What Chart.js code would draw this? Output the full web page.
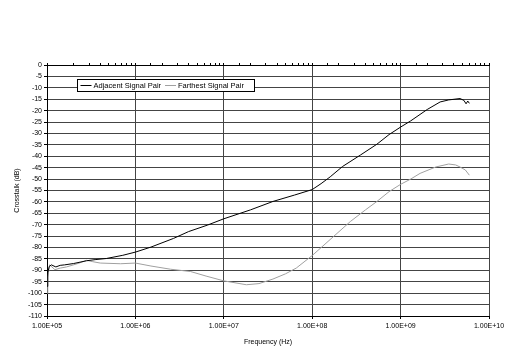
<!DOCTYPE html>
<html>
<head>
<meta charset="utf-8">
<script src="https://cdn.jsdelivr.net/npm/chart.js@4"></script>
<style>
  html, body { margin: 0; padding: 0; background: #fff; }
  #wrap { width: 519px; height: 355px; }
</style>
</head>
<body>
<div id="wrap"><canvas id="xtalkChart" width="519" height="355"></canvas></div>
<script>
// ----------------------
// DATA
// ----------------------
const seriesNames = ["Adjacent Signal Pair", "Farthest Signal Pair"];

const adjFreq = [1.0e5, 1.02e5, 1.06e5, 1.12e5, 1.26e5, 1.41e5, 1.58e5, 2.0e5, 2.8e5, 3.5e5,
  4.7e5, 7.2e5, 1.0e6, 1.5e6, 2.7e6, 4.0e6, 6.5e6, 1.0e7, 2.0e7, 3.6e7,
  6.3e7, 1.0e8, 1.26e8, 1.6e8, 2.2e8, 3.5e8, 5.4e8, 7.4e8, 1.0e9, 1.3e9, 2.0e9,
  2.8e9, 3.5e9, 4.7e9, 5.2e9, 5.5e9, 5.75e9, 6.0e9];
const adjDb = [-97, -91, -88.3, -87.6, -88.5, -87.8, -87.6, -87.0, -85.8, -85.3,
  -84.8, -83.4, -82.0, -79.8, -76.0, -73.0, -70.2, -67.4, -63.5, -59.8,
  -57.0, -54.6, -52.0, -49.0, -44.5, -39.5, -34.7, -30.5, -27.2, -24.5, -19.5,
  -16.2, -15.3, -14.7, -15.5, -17.0, -15.8, -16.8];

const farFreq = [1.0e5, 1.02e5, 1.07e5, 1.23e5, 1.41e5, 1.66e5, 2.24e5, 2.8e5, 3.3e5, 4.0e5,
  6.8e5, 1.0e6, 1.5e6, 2.5e6, 4.2e6, 6.3e6, 1.0e7, 1.8e7, 2.5e7, 3.6e7,
  5.0e7, 6.6e7, 1.0e8, 1.74e8, 2.7e8, 4.0e8, 5.4e8, 7.4e8, 1.0e9, 1.3e9,
  1.66e9, 2.5e9, 3.5e9, 4.2e9, 4.7e9, 5.4e9, 6.0e9];
const farDb = [-100, -93, -87.6, -89.7, -89.0, -88.5, -87.0, -85.6, -86.2, -86.8,
  -87.1, -86.8, -88.1, -89.5, -90.5, -92.5, -94.6, -96.3, -95.8, -93.8,
  -91.5, -89.0, -83.5, -75.2, -68.6, -63.5, -59.8, -55.5, -52.3, -50.0,
  -47.5, -44.7, -43.4, -43.8, -44.7, -46.0, -48.3];

const decadeTicks = [1e5, 1e6, 1e7, 1e8, 1e9, 1e10];

// ----------------------
// HELPERS
// ----------------------
const FONT = "'Liberation Sans', Arial, sans-serif";

function toPoints(xs, ys) {
  return xs.map((x, i) => ({ x: x, y: ys[i] }));
}

// 1.00E+05 style labels
function sciLabel(v) {
  const e = Math.round(Math.log10(v));
  const m = v / Math.pow(10, e);
  return m.toFixed(2) + "E+" + String(e).padStart(2, "0");
}

// legend box drawn inside the plot like the original
const boxLegend = {
  id: 'boxLegend',
  afterDraw(chart) {
    const ctx = chart.ctx;
    const x = 77.5, y = 79.5, w = 177, h = 12;
    ctx.save();
    ctx.fillStyle = '#fff';
    ctx.fillRect(x, y, w, h);
    ctx.strokeStyle = '#000';
    ctx.lineWidth = 1;
    ctx.strokeRect(x, y, w, h);
    ctx.font = "7.5px " + FONT;
    ctx.textBaseline = 'middle';
    ctx.fillStyle = '#000';
    const mid = y + h / 2;
    let cx = x + 3;
    chart.data.datasets.forEach(ds => {
      ctx.strokeStyle = ds.borderColor;
      ctx.beginPath();
      ctx.moveTo(cx, mid);
      ctx.lineTo(cx + 11, mid);
      ctx.stroke();
      cx += 13;
      ctx.fillText(ds.label, cx, mid + 0.5);
      cx += ctx.measureText(ds.label).width + 4;
    });
    ctx.restore();
  }
};

// ----------------------
// CHART
// ----------------------
const ctx = document.getElementById('xtalkChart').getContext('2d');

const chart = new Chart(ctx, {
  type: 'line',
  data: {
    datasets: [{
      label: seriesNames[0],
      data: toPoints(adjFreq, adjDb),
      borderColor: '#000',
      borderWidth: 1,
      pointRadius: 0,
      tension: 0
    }, {
      label: seriesNames[1],
      data: toPoints(farFreq, farDb),
      borderColor: '#a0a0a0',
      borderWidth: 1,
      pointRadius: 0,
      tension: 0
    }]
  },
  options: {
    responsive: false,
    animation: false,
    layout: { padding: { left: 0, right: 30, top: 0, bottom: 0 } },
    plugins: {
      legend: { display: false },
      tooltip: { enabled: false }
    },
    scales: {
      x: {
        type: 'logarithmic',
        position: 'bottom',
        min: 1e5,
        max: 1e10,
        afterBuildTicks: s => { s.ticks = decadeTicks.map(v => ({ value: v })); },
        afterFit: s => { s.height = 39; },
        grid: { color: '#444', tickLength: 3, tickColor: '#000' },
        border: { color: '#000' },
        ticks: {
          autoSkip: false,
          maxRotation: 0,
          padding: 3,
          color: '#000',
          font: { family: FONT, size: 7 },
          callback: v => sciLabel(v)
        },
        title: {
          display: true,
          text: 'Frequency (Hz)',
          color: '#000',
          font: { family: FONT, size: 7 },
          padding: { top: 0, bottom: 9 }
        }
      },
      x2: {
        type: 'logarithmic',
        position: 'top',
        min: 1e5,
        max: 1e10,
        afterFit: s => { s.height = 65; },
        grid: { drawOnChartArea: false, tickLength: 2, color: '#000' },
        border: { color: '#000' },
        ticks: { display: false }
      },
      y: {
        min: -110,
        max: 0,
        afterFit: s => { s.width = 47; },
        grid: { color: '#444', tickLength: 3, tickColor: '#000' },
        border: { color: '#000' },
        ticks: {
          stepSize: 5,
          padding: 2,
          color: '#000',
          font: { family: FONT, size: 7 }
        },
        title: {
          display: true,
          text: 'Crosstalk (dB)',
          color: '#000',
          font: { family: FONT, size: 7 },
          padding: { top: 13, bottom: 0 }
        }
      }
    }
  },
  plugins: [boxLegend]
});
</script>
</body>
</html>
